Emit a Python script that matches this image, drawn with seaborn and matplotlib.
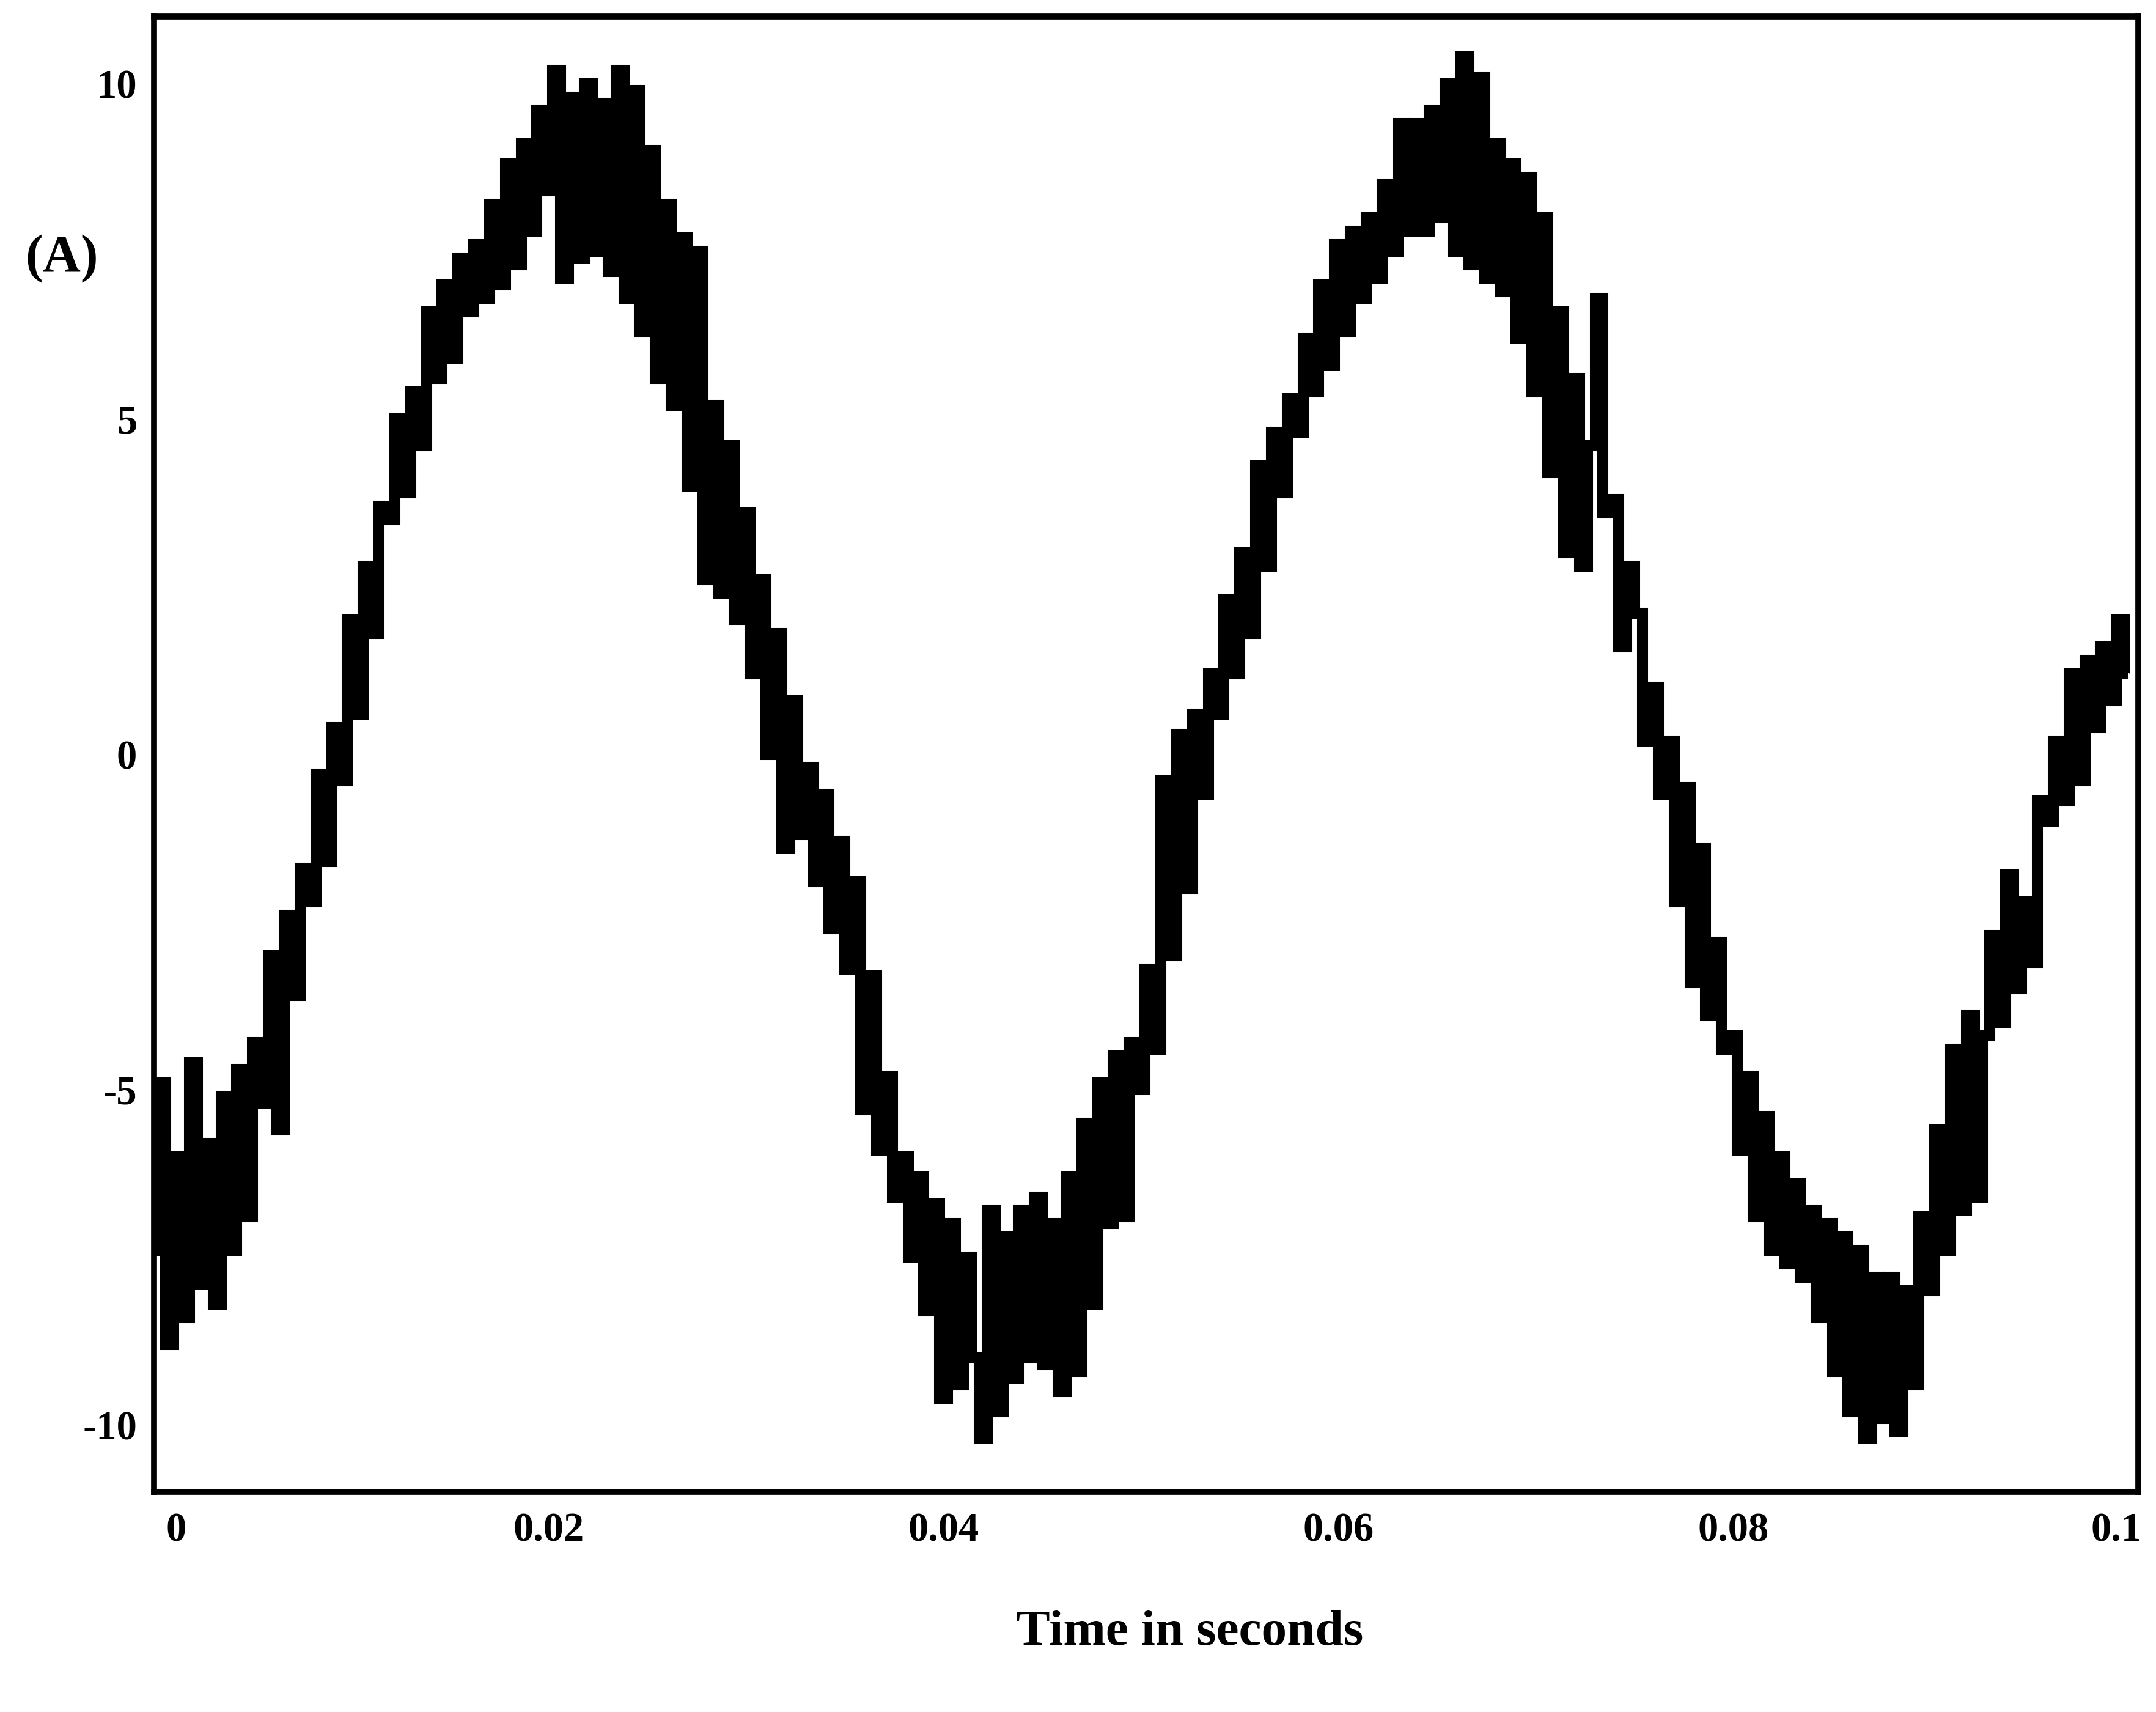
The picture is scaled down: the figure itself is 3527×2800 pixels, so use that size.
import numpy as np
import pandas as pd
import seaborn as sns
import matplotlib.pyplot as plt
import matplotlib.transforms as mtransforms

# current samples, one every 0.4 ms from 0 to 0.1 s
sample_step = 0.0004
current = [
    -7.4, -4.9, -8.8, -6.0, -8.4,
    -4.6, -7.9, -5.8, -8.2, -5.1,
    -7.4, -4.7, -6.9, -4.3, -5.2,
    -3.0, -5.6, -2.4, -3.6, -1.7,
    -2.2, -0.3, -1.6, 0.4, -0.4,
    2.0, 0.6, 2.8, 1.8, 3.7,
    3.5, 5.0, 3.9, 5.4, 4.6,
    6.6, 5.6, 7.0, 5.9, 7.4,
    6.6, 7.6, 6.8, 8.2, 7.0,
    8.8, 7.3, 9.1, 7.8, 9.6,
    8.4, 10.2, 7.1, 9.8, 7.4,
    10.0, 7.5, 9.7, 7.2, 10.2,
    6.8, 9.9, 6.3, 9.0, 5.6,
    8.2, 5.2, 7.7, 4.0, 7.5,
    2.6, 5.2, 2.4, 4.6, 2.0,
    3.6, 1.2, 2.6, 0.0, 1.8,
    -1.4, 0.8, -1.2, -0.2, -1.9,
    -0.6, -2.6, -1.3, -3.2, -1.9,
    -5.3, -3.3, -5.9, -4.8, -6.6,
    -6.0, -7.5, -6.3, -8.3, -6.7,
    -9.6, -7.0, -9.4, -7.5, -9.0,
    -10.2, -6.8, -9.8, -7.2, -9.3,
    -6.8, -9.0, -6.6, -9.1, -7.0,
    -9.5, -6.3, -9.2, -5.5, -8.2,
    -4.9, -7.0, -4.5, -6.9, -4.3,
    -5.0, -3.2, -4.4, -0.4, -3.0,
    0.3, -2.0, 0.6, -0.6, 1.2,
    0.6, 2.3, 1.2, 3.0, 1.8,
    4.3, 2.8, 4.8, 3.9, 5.3,
    4.8, 6.2, 5.4, 7.0, 5.8,
    7.6, 6.3, 7.8, 6.8, 8.0,
    7.1, 8.5, 7.5, 9.4, 7.8,
    9.4, 7.8, 9.6, 8.0, 10.0,
    7.5, 10.4, 7.3, 10.1, 7.1,
    9.1, 6.9, 8.8, 6.2, 8.6,
    5.4, 8.0, 4.2, 6.6, 3.0,
    5.6, 2.8, 4.6, 6.8, 3.6,
    3.8, 1.6, 2.8, 2.1, 0.2,
    1.0, -0.6, 0.2, -2.2, -0.5,
    -3.4, -1.4, -3.9, -2.8, -4.4,
    -4.2, -5.9, -4.8, -6.9, -5.4,
    -7.4, -6.0, -7.6, -6.4, -7.8,
    -6.8, -8.4, -7.0, -9.2, -7.2,
    -9.8, -7.4, -10.2, -7.8, -9.9,
    -7.8, -10.1, -8.0, -9.4, -6.9,
    -8.0, -5.6, -7.4, -4.4, -6.8,
    -3.9, -6.6, -4.2, -2.7, -4.0,
    -1.8, -3.5, -2.2, -3.1, -0.7,
    -1.0, 0.2, -0.7, 1.2, -0.4,
    1.4, 0.4, 1.6, 0.8, 2.0,
    1.2,
]
x_ticks = [0, 0.02, 0.04, 0.06, 0.08, 0.1]
x_tick_labels = ['0', '0.02', '0.04', '0.06', '0.08', '0.1']
y_ticks = [-10, -5, 0, 5, 10]
y_tick_labels = ['-10', '-5', '0', '5', '10']

df = pd.DataFrame({'t': np.arange(len(current)) * sample_step, 'i': current})

sns.set_theme(style='white')
plt.rcParams['font.family'] = ['Liberation Serif', 'DejaVu Serif']
plt.rcParams['font.weight'] = 'bold'
plt.rcParams['text.color'] = 'black'

fig = plt.figure(figsize=(35.27, 28), dpi=100)
ax = fig.add_axes([0.0714, 0.1285, 0.9203, 0.8619])

sns.lineplot(data=df, x='t', y='i', ax=ax, color='black', linewidth=13,
             estimator=None, sort=False, drawstyle='steps-mid',
             solid_joinstyle='miter', solid_capstyle='butt')

ax.set_xlim(0, 0.1005)
ax.set_ylim(-11, 11)
ax.set_xticks(x_ticks)
ax.set_xticklabels(x_tick_labels)
ax.set_yticks(y_ticks)
ax.set_yticklabels(y_tick_labels)
ax.tick_params(axis='both', direction='in', length=24, width=5, colors='black',
               labelsize=48, top=False, right=False)
ax.tick_params(axis='x', pad=24)
ax.tick_params(axis='y', pad=20)
for lab in ax.get_xticklabels() + ax.get_yticklabels():
    lab.set_fontweight('bold')

# the first and last x labels sit a little off their ticks in the original
xlabs = ax.get_xticklabels()
xlabs[0].set_transform(xlabs[0].get_transform() +
                       mtransforms.ScaledTranslation(0.36, 0, fig.dpi_scale_trans))
xlabs[-1].set_transform(xlabs[-1].get_transform() +
                        mtransforms.ScaledTranslation(-0.2, 0, fig.dpi_scale_trans))

for s in ax.spines.values():
    s.set_color('black')
    s.set_linewidth(7)

ax.set_ylabel('')
ax.set_xlabel('Time in seconds', fontsize=60, fontweight='bold', color='black')
ax.xaxis.set_label_coords(0.522, -0.08)

fig.text(0.0287, 0.849, '(A)', fontsize=62, fontweight='bold', color='black',
         ha='center', va='center')

fig.savefig('out.png', dpi=100, facecolor='white')
